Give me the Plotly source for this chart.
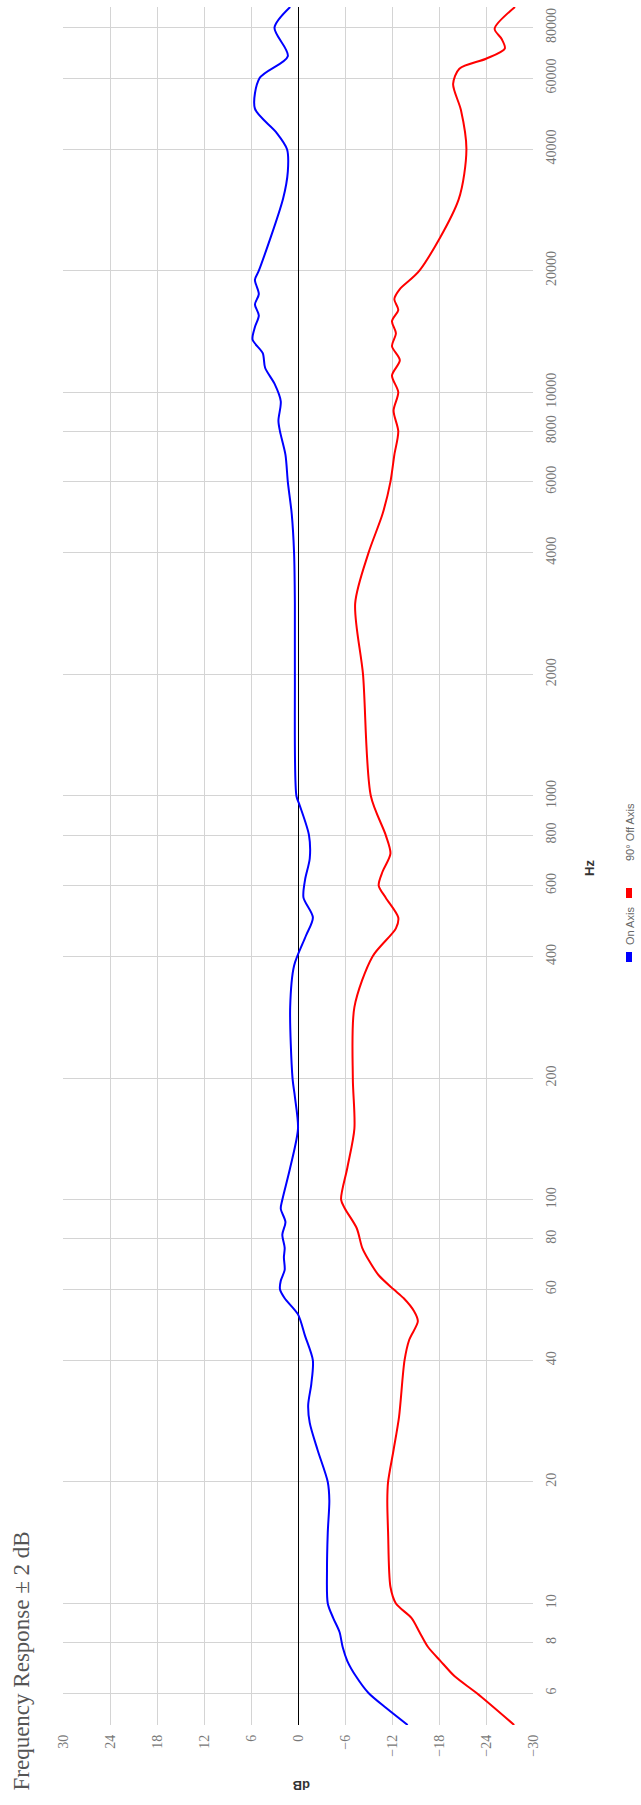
import plotly.graph_objects as go

# Frequency response data: frequency (Hz) and level (dB)
on_axis_hz = [5, 5.5, 6, 6.6, 7.2, 7.8, 8.5, 9.2, 10, 12, 15, 18, 20, 24, 28, 31, 35, 40, 46, 52,
              57, 60, 63, 67, 72, 76, 82, 88, 95, 100, 120, 150, 180, 200, 300, 380, 450, 500,
              560, 620, 700, 800, 950, 1000, 2000, 3000, 4000, 5000, 6000, 7000, 8000, 8500,
              9500, 10500, 11500, 12500, 13500, 14500, 15500, 16500, 17500, 19000, 20000,
              30200, 35200, 40000, 44100, 50400, 60000, 68000, 80000, 90000]
on_axis_db = [-14.0, -11.3, -9.0, -7.4, -6.3, -5.7, -5.3, -4.5, -3.8, -3.7, -3.8, -4.0, -3.8, -2.5,
              -1.5, -1.3, -1.7, -1.9, -0.9, 0.0, 1.7, 2.3, 2.2, 1.7, 1.8, 1.7, 2.0, 1.6, 2.2, 2.0,
              1.0, 0.0, 0.4, 0.7, 1.0, 0.5, -1.0, -1.9, -0.7, -0.9, -1.5, -1.4, -0.2, 0.2, 0.4,
              0.4, 0.5, 0.8, 1.3, 1.6, 2.3, 2.5, 2.2, 3.0, 4.2, 4.5, 5.8, 5.5, 5.0, 5.5, 5.0,
              5.5, 5.0, 1.9, 1.3, 1.4, 2.8, 5.5, 4.9, 1.3, 3.0, 1.0]

off_axis_hz = [5, 6, 6.6, 7.2, 7.8, 8.5, 9.2, 10, 11, 15, 18, 20, 24, 29, 40, 45, 50, 53, 57, 60,
               65, 71, 76, 85, 95, 100, 120, 150, 200, 300, 400, 470, 500, 560, 600, 650, 720,
               800, 1000, 2000, 3000, 4000, 5000, 6000, 7000, 8000, 9000, 10000, 11000, 12000,
               13000, 14000, 15000, 16000, 17000, 18000, 20000, 30000, 40000, 50000, 58000,
               63300, 67000, 71000, 75000, 79500, 90000]
off_axis_db = [-27.6, -22.8, -20.0, -18.2, -16.6, -15.5, -14.5, -12.5, -11.8, -11.5, -11.4, -11.5,
               -12.2, -12.9, -13.6, -14.2, -15.3, -14.8, -13.5, -12.2, -10.3, -9.0, -8.2, -7.5,
               -6.0, -5.5, -6.3, -7.2, -7.0, -7.2, -9.5, -12.5, -12.8, -11.2, -10.3, -10.8,
               -11.8, -11.2, -9.3, -8.3, -7.3, -9.0, -10.8, -11.8, -12.3, -12.8, -12.2, -12.8,
               -12.0, -13.0, -12.0, -12.5, -12.0, -12.8, -12.3, -13.0, -15.5, -20.5, -21.5,
               -20.8, -19.8, -20.6, -24.0, -26.4, -26.0, -25.1, -27.7]

db_ticks = [30, 24, 18, 12, 6, 0, -6, -12, -18, -24, -30]
hz_ticks = [6, 8, 10, 20, 40, 60, 80, 100, 200, 400, 600, 800, 1000, 2000, 4000, 6000, 8000,
            10000, 20000, 40000, 60000, 80000]

series = [("On Axis", on_axis_hz, on_axis_db, "#0000ff"),
          ("90° Off Axis", off_axis_hz, off_axis_db, "#ff0000")]

W, H = 641, 1805
L, R, T, B = 63, 108, 7, 80
PW, PH = W - L - R, H - T - B


def px(x):
    return (x - L) / PW


def py(y):
    return (H - B - y) / PH


fig = go.Figure()
for name, hz, db, color in series:
    fig.add_trace(go.Scatter(x=db, y=hz, mode="lines", name=name,
                             line=dict(color=color, width=2, shape="spline", smoothing=0.8),
                             showlegend=False))

tick_font = dict(family="Liberation Serif", size=14, color="#777")
fig.update_layout(
    width=W, height=H,
    margin=dict(l=L, r=R, t=T, b=B),
    paper_bgcolor="white", plot_bgcolor="white",
    xaxis=dict(range=[30, -30], tickvals=db_ticks, tickangle=-90, ticks="",
               showgrid=True, gridcolor="#d4d4d4", gridwidth=1,
               zeroline=True, zerolinecolor="#000", zerolinewidth=1,
               showline=False, tickfont=tick_font, ticklabelstandoff=6),
    yaxis=dict(type="log", range=[0.69897, 4.95424], tickvals=hz_ticks,
               ticktext=[str(v) for v in hz_ticks], side="right", tickangle=-90, ticks="",
               showgrid=True, gridcolor="#d4d4d4", gridwidth=1, zeroline=False,
               showline=False, tickfont=tick_font, ticklabelstandoff=8),
)

# Title, axis titles and legend drawn as rotated text
fig.add_annotation(text="Frequency Response ± 2 dB", xref="paper", yref="paper",
                   x=px(21), y=py(1793), xanchor="center", yanchor="bottom",
                   textangle=-90, showarrow=False,
                   font=dict(family="Liberation Serif", size=23, color="#555"))
fig.add_annotation(text="<b>dB</b>", xref="paper", yref="paper",
                   x=px(302), y=py(1786), xanchor="center", yanchor="middle",
                   textangle=180, showarrow=False,
                   font=dict(family="Liberation Sans", size=13, color="#333"))
fig.add_annotation(text="<b>Hz</b>", xref="paper", yref="paper",
                   x=px(589), y=py(868), xanchor="center", yanchor="middle",
                   textangle=-90, showarrow=False,
                   font=dict(family="Liberation Sans", size=13, color="#333"))

legend_font = dict(family="Liberation Sans", size=11, color="#666")
fig.add_annotation(text="90° Off Axis", xref="paper", yref="paper",
                   x=px(630), y=py(863), xanchor="center", yanchor="bottom",
                   textangle=-90, showarrow=False, font=legend_font)
fig.add_annotation(text="On Axis", xref="paper", yref="paper",
                   x=px(630), y=py(947), xanchor="center", yanchor="bottom",
                   textangle=-90, showarrow=False, font=legend_font)
for (name, hz, db, color), yc in zip(series, [957, 893]):
    fig.add_shape(type="rect", xref="paper", yref="paper",
                  x0=px(626), x1=px(632), y0=py(yc + 5), y1=py(yc - 5),
                  fillcolor=color, line=dict(width=0))

fig.write_html("out.html")
